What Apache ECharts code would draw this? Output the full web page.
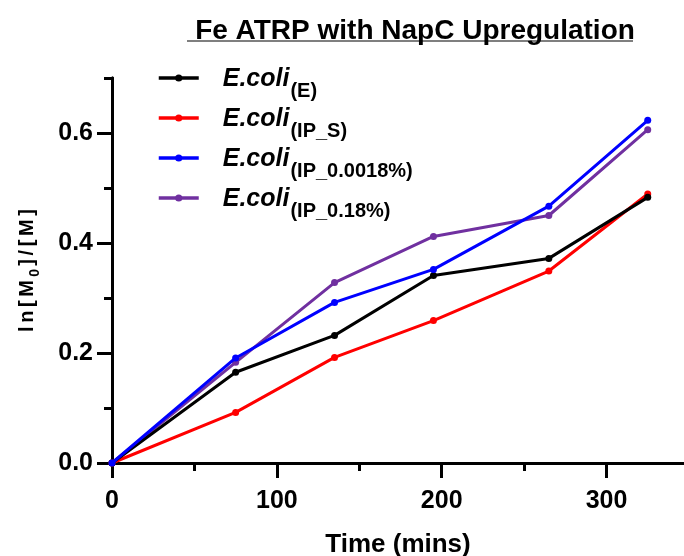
<!DOCTYPE html>
<html>
<head>
<meta charset="utf-8">
<script src="https://cdn.jsdelivr.net/npm/echarts@6/dist/echarts.min.js"></script>
<style>
  html, body { margin: 0; padding: 0; background: #fff; }
  #chart { width: 684px; height: 556px; }
</style>
</head>
<body>
<div id="chart"></div>
<script>
// 数据
const timeMins = [0, 75, 135, 195, 265, 325];
const strainSubs = ['(E)', '(IP_S)', '(IP_0.0018%)', '(IP_0.18%)'];
const colors = ['#000000', '#ff0000', '#0000ff', '#7030a0'];
const ecoliE = [0, 0.165, 0.232, 0.341, 0.372, 0.483];
const ecoliIPS = [0, 0.092, 0.192, 0.259, 0.349, 0.489];
const ecoliIP00018 = [0, 0.191, 0.292, 0.352, 0.467, 0.623];
const ecoliIP018 = [0, 0.183, 0.328, 0.412, 0.450, 0.606];
const xMajor = [0, 100, 200, 300];
const xMinor = [50, 150, 250];
const yMajor = [0, 0.2, 0.4, 0.6];
const yMinor = [0.1, 0.3, 0.5, 0.7];

const allSeries = [ecoliE, ecoliIPS, ecoliIP00018, ecoliIP018];
const zOrder = [4, 3, 5, 2];

const font = 'Liberation Sans, Arial, sans-serif';
const chart = echarts.init(document.getElementById('chart'));

const axisBase = {
    axisLine: { show: true, lineStyle: { color: '#000', width: 3 } },
    splitLine: { show: false }
};

// y轴标题字间距拉开一点
function spaced(str, style) {
    return str.split('').map(c => '{' + style + '|' + c + '}').join('');
}
const yName = spaced('ln[M', 'a') + '{s|0}' + spaced(']/[M]', 'a');

const option = {
    animation: false,
    textStyle: { fontFamily: font },
    title: {
        text: 'Fe ATRP with NapC Upregulation',
        left: 410,
        top: 12,
        textAlign: 'center',
        textStyle: { fontSize: 28, fontWeight: 'bold', color: '#000', fontFamily: font }
    },
    graphic: [{
        type: 'line',
        shape: { x1: 187, y1: 41, x2: 633, y2: 41 },
        style: { stroke: '#555', lineWidth: 1.5 }
    }],
    legend: {
        orient: 'vertical',
        left: 157,
        top: 67,
        padding: 0,
        itemWidth: 40,
        itemHeight: 9,
        itemGap: 6,
        lineStyle: { width: 3.5 },
        formatter: name => '{i|E.coli}{s|' + name.slice(6) + '}',
        textStyle: {
            rich: {
                i: { fontSize: 25, fontWeight: 'bold', fontStyle: 'italic', color: '#000', fontFamily: font, lineHeight: 28, verticalAlign: 'bottom', padding: [0, 0, 0, 19] },
                s: { fontSize: 20, fontWeight: 'bold', color: '#000', fontFamily: font, lineHeight: 28, verticalAlign: 'bottom', padding: [0, 0, -9, 1] }
            }
        }
    },
    grid: { left: 112, right: 0, top: 78, bottom: 93, containLabel: false, outerBoundsMode: 'none' },
    xAxis: [
        Object.assign({}, axisBase, {
            type: 'value', min: 0, max: 347,
            axisTick: { show: true, length: 15, lineStyle: { width: 3, color: '#000' }, customValues: xMajor },
            axisLabel: { fontSize: 25, fontWeight: 'bold', color: '#000', margin: 26, customValues: xMajor },
            name: 'Time (mins)',
            nameLocation: 'middle',
            nameGap: 69,
            nameTextStyle: { fontSize: 26, fontWeight: 'bold', color: '#000' }
        }),
        Object.assign({}, axisBase, {
            type: 'value', min: 0, max: 347, position: 'bottom',
            axisTick: { show: true, length: 8, lineStyle: { width: 3, color: '#000' }, customValues: xMinor },
            axisLabel: { show: false }
        })
    ],
    yAxis: [
        Object.assign({}, axisBase, {
            type: 'value', min: 0, max: 0.7,
            axisTick: { show: true, length: 15, lineStyle: { width: 3, color: '#000' }, customValues: yMajor },
            axisLabel: { fontSize: 25, fontWeight: 'bold', color: '#000', margin: 19, customValues: yMajor,
                formatter: v => v.toFixed(1) },
            name: yName,
            nameLocation: 'middle',
            nameGap: 75,
            nameTextStyle: {
                rich: {
                    a: { fontSize: 20, fontWeight: 'bold', color: '#000', fontFamily: font, lineHeight: 26, verticalAlign: 'bottom', padding: [0, 1.8, 0, 1.8] },
                    s: { fontSize: 14, fontWeight: 'bold', color: '#000', fontFamily: font, lineHeight: 26, verticalAlign: 'bottom', padding: [0, 1.5, -5, 1.5] }
                }
            }
        }),
        Object.assign({}, axisBase, {
            type: 'value', min: 0, max: 0.7, position: 'left',
            axisTick: { show: true, length: 8, lineStyle: { width: 3, color: '#000' }, customValues: yMinor },
            axisLabel: { show: false }
        })
    ],
    series: allSeries.map((vals, i) => ({
        name: 'E.coli' + strainSubs[i],
        type: 'line',
        data: timeMins.map((t, k) => [t, vals[k]]),
        symbol: 'circle',
        symbolSize: 7,
        z: zOrder[i],
        lineStyle: { color: colors[i], width: 3 },
        itemStyle: { color: colors[i] }
    }))
};

chart.setOption(option);
</script>
</body>
</html>
